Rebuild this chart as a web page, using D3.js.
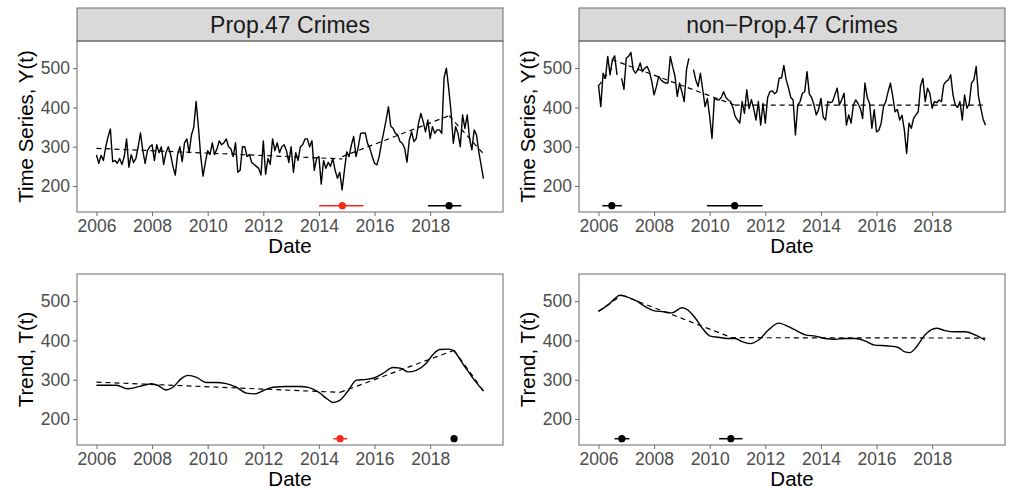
<!DOCTYPE html>
<html>
<head>
<meta charset="utf-8">
<script src="https://cdn.jsdelivr.net/npm/d3@7"></script>
<style>
  body { margin: 0; background: #fff; }
  text { font-family: "Liberation Sans", Arial, Helvetica, sans-serif; }
</style>
</head>
<body>
<svg id="chart" width="1011" height="490"></svg>
<script>
// monthly counts, Jan 2006 .. Dec 2019
var prop47Series = [
  279, 258, 278, 265, 300, 325, 345, 262, 265, 258, 270, 255,
  275, 320, 248, 280, 260, 270, 300, 335, 290, 258, 290, 300,
  305, 265, 305, 285, 300, 255, 285, 300, 280, 250, 228, 280,
  300, 262, 310, 320, 285, 330, 350, 415, 350, 275, 225, 260,
  290, 280, 310, 280, 295, 315, 305, 310, 320, 300, 295, 275,
  310, 235, 240, 300, 300, 275, 280, 260, 255, 250, 245, 228,
  315, 230, 270, 255, 320, 290, 310, 285, 300, 305, 290, 260,
  300, 235, 285, 265, 300, 305, 320, 320, 300, 315, 240, 270,
  275, 205, 265, 245, 260, 250, 270, 240, 220, 235, 190, 240,
  287, 275, 304, 326, 275, 300, 334, 335, 335, 308, 296, 275,
  258, 254, 275, 309, 338, 368, 402, 352, 347, 334, 330, 313,
  309, 296, 261, 317, 338, 313, 321, 360, 385, 364, 338, 368,
  321, 351, 334, 343, 343, 334, 475, 500, 449, 390, 309, 351,
  334, 300, 381, 347, 381, 321, 292, 343, 330, 287, 253, 219
];
var nonProp47Series = [
  457, 402, 487, 474, 530, 483, 521, 531, 483, null, 474, 446,
  525, 530, 540, 496, 487, 496, 513, 491, 500, 504, 491, 466,
  432, 453, 479, 470, 465, 462, 462, 530, 504, 480, 428, 462,
  440, 415, 496, 525, null, 496, 470, 453, 487, 445, 402, 423,
  377, 321, 423, 420, 419, 425, 440, 425, 419, 415, 400, 377,
  368, 360, 415, 385, 445, 397, 420, 397, 368, 415, 355, 410,
  360, 425, 440, 442, 435, 440, 475, 475, 507, 470, 450, 425,
  419, 330, 406, 415, 436, 440, 491, 434, 425, 406, 381, 395,
  423, 375, 368, 415, 412, 415, 432, 449, 406, 420, 436, 355,
  381, 360, 406, 419, 410, 398, 372, 462, 425, 410, 347, 394,
  338, 342, 360, 402, 415, 440, 462, 428, 389, 395, 368, 380,
  343, 283, 360, 347, 372, 381, 389, 455, 474, 415, 449, 436,
  398, 415, 412, 419, 415, 458, 466, 470, 483, 432, 406, 400,
  415, 368, 432, 398, 410, 462, 470, 504, 428, 398, 370, 355
];
var months = d3.range(prop47Series.length).map(function (i) { return 2006 + i / 12; });

// trend components T(t)
var prop47TrendYears = [2006.0, 2006.72, 2007.13, 2007.55, 2007.97, 2008.2, 2008.5, 2008.75, 2009.05, 2009.3,
  2009.6, 2009.95, 2010.3, 2010.67, 2011.03, 2011.39, 2011.69, 2011.99, 2012.35, 2012.8, 2013.3, 2013.65,
  2014.0, 2014.3, 2014.5, 2014.76, 2015.05, 2015.35, 2015.71, 2016.0, 2016.3, 2016.66, 2016.96, 2017.2,
  2017.5, 2017.86, 2018.1, 2018.35, 2018.65, 2018.82, 2019.2, 2019.55, 2019.92];
var prop47Trend = [286, 286, 277, 283, 290, 286, 274, 281, 303, 311,
  306, 293, 293, 290, 281, 266, 264, 272, 281, 283, 283, 280,
  268, 251, 242, 248, 272, 299, 301, 305, 316, 331, 329, 320,
  324, 342, 364, 377, 378, 375, 338, 303, 271];
var nonProp47TrendYears = [2006.0, 2006.36, 2006.78, 2007.02, 2007.38, 2007.68, 2007.98, 2008.34, 2008.64, 2009.0,
  2009.18, 2009.48, 2009.78, 2010.02, 2010.32, 2010.62, 2010.92, 2011.16, 2011.46, 2011.76, 2012.12, 2012.48,
  2012.84, 2013.2, 2013.44, 2013.8, 2014.15, 2014.51, 2014.87, 2015.23, 2015.58, 2015.94, 2016.42, 2016.78,
  2017.02, 2017.2, 2017.44, 2017.74, 2018.16, 2018.46, 2018.82, 2019.18, 2019.54, 2019.9];
var nonProp47Trend = [474, 491, 515, 511, 500, 486, 476, 473, 470, 483,
  479, 457, 427, 411, 408, 405, 405, 397, 392, 401, 427, 444,
  435, 422, 414, 411, 405, 403, 405, 405, 399, 388, 386, 382,
  371, 369, 384, 414, 431, 425, 422, 422, 414, 401];

// piecewise linear fits: [x0, y0, x1, y1]
var prop47FitSeries = [[2006.0, 296, 2014.84, 269], [2014.84, 275, 2018.68, 379], [2018.68, 379, 2019.92, 282]];
var nonProp47FitSeries = [[2006.0, 455, 2006.48, 500], [2006.48, 522, 2010.9, 406], [2010.9, 406, 2019.92, 406]];
var prop47FitTrend = [[2006.0, 294, 2014.76, 268], [2014.76, 268, 2018.86, 375], [2018.86, 375, 2019.92, 271]];
var nonProp47FitTrend = [[2006.0, 474, 2006.84, 515], [2006.84, 515, 2010.76, 408], [2010.76, 407, 2019.92, 406]];

// change points: [lower, estimate, upper]
var prop47CpSeries = [[2014.01, 2014.84, 2015.60], [2017.92, 2018.68, 2019.12]];
var nonProp47CpSeries = [[2006.14, 2006.48, 2006.84], [2009.90, 2010.90, 2011.90]];
var prop47CpTrend = [[2014.52, 2014.76, 2015.02], [2018.82, 2018.86, 2018.90]];
var nonProp47CpTrend = [[2006.58, 2006.84, 2007.11], [2010.34, 2010.76, 2011.18]];
var cpLevel = 150;

var xTicks = [2006, 2008, 2010, 2012, 2014, 2016, 2018];
var yTicks = [200, 300, 400, 500];

var svg = d3.select("#chart");
var xDomain = [2005.30, 2020.62], yDomain = [134, 569];
var cols = [[77, 503], [579, 1005]];
var rows = [[41, 212], [274, 445]];
var frameColor = "#6b6b6b";

var panels = [
  { col: 0, row: 0, title: "Prop.47 Crimes", ylab: "Time Series, Y(t)", xs: months, ys: prop47Series, fit: prop47FitSeries, cp: prop47CpSeries, cpColors: ["#f8291a", "black"], smooth: false },
  { col: 1, row: 0, title: "non\u2212Prop.47 Crimes", ylab: "Time Series, Y(t)", xs: months, ys: nonProp47Series, fit: nonProp47FitSeries, cp: nonProp47CpSeries, cpColors: ["black", "black"], smooth: false },
  { col: 0, row: 1, title: null, ylab: "Trend, T(t)", xs: prop47TrendYears, ys: prop47Trend, fit: prop47FitTrend, cp: prop47CpTrend, cpColors: ["#f8291a", "black"], smooth: true },
  { col: 1, row: 1, title: null, ylab: "Trend, T(t)", xs: nonProp47TrendYears, ys: nonProp47Trend, fit: nonProp47FitTrend, cp: nonProp47CpTrend, cpColors: ["black", "black"], smooth: true }
];

panels.forEach(function (p, i) {
  var x0 = cols[p.col][0], x1 = cols[p.col][1];
  var y0 = rows[p.row][0], y1 = rows[p.row][1];
  var x = d3.scaleLinear().domain(xDomain).range([x0, x1]);
  var y = d3.scaleLinear().domain(yDomain).range([y1, y0]);
  var g = svg.append("g");

  // strip on top
  if (p.title) {
    g.append("rect")
      .attr("x", x0).attr("y", y0 - 33)
      .attr("width", x1 - x0).attr("height", 33)
      .attr("fill", "#d9d9d9").attr("stroke", frameColor).attr("stroke-width", 1);
    g.append("text")
      .attr("x", (x0 + x1) / 2).attr("y", y0 - 16.5)
      .attr("text-anchor", "middle").attr("dominant-baseline", "central")
      .attr("font-size", "23px").attr("fill", "#1a1a1a")
      .text(p.title);
  }

  g.append("clipPath").attr("id", "clip" + i)
    .append("rect").attr("x", x0).attr("y", y0).attr("width", x1 - x0).attr("height", y1 - y0);
  var plot = g.append("g").attr("clip-path", "url(#clip" + i + ")");

  // main line
  var pts = p.xs.map(function (d, k) { return [d, p.ys[k]]; });
  var line = d3.line()
    .defined(function (d) { return d[1] != null; })
    .x(function (d) { return x(d[0]); })
    .y(function (d) { return y(d[1]); });
  if (p.smooth) line.curve(d3.curveMonotoneX);
  plot.append("path").datum(pts)
    .attr("d", line)
    .attr("fill", "none").attr("stroke", "black")
    .attr("stroke-width", 1.4).attr("stroke-linejoin", "round");

  // dashed piecewise fit
  plot.selectAll(".fit").data(p.fit).enter().append("line")
    .attr("x1", function (d) { return x(d[0]); })
    .attr("y1", function (d) { return y(d[1]); })
    .attr("x2", function (d) { return x(d[2]); })
    .attr("y2", function (d) { return y(d[3]); })
    .attr("stroke", "black").attr("stroke-width", 1.2)
    .attr("stroke-dasharray", "5,4");

  // change point intervals
  plot.selectAll(".cpi").data(p.cp).enter().append("line")
    .attr("x1", function (d) { return x(d[0]); })
    .attr("x2", function (d) { return x(d[2]); })
    .attr("y1", y(cpLevel)).attr("y2", y(cpLevel))
    .attr("stroke", function (d, k) { return p.cpColors[k]; })
    .attr("stroke-width", 1.5);
  plot.selectAll(".cpd").data(p.cp).enter().append("circle")
    .attr("cx", function (d) { return x(d[1]); })
    .attr("cy", y(cpLevel))
    .attr("r", 3.6)
    .attr("fill", function (d, k) { return p.cpColors[k]; });

  // panel border
  g.append("rect")
    .attr("x", x0).attr("y", y0).attr("width", x1 - x0).attr("height", y1 - y0)
    .attr("fill", "none").attr("stroke", frameColor).attr("stroke-width", 1);

  // axes
  var ax = g.append("g").attr("transform", "translate(0," + y1 + ")")
    .call(d3.axisBottom(x).tickValues(xTicks).tickFormat(d3.format("d")).tickSize(4).tickPadding(4));
  var ay = g.append("g").attr("transform", "translate(" + x0 + ",0)")
    .call(d3.axisLeft(y).tickValues(yTicks).tickSize(4).tickPadding(3));
  [ax, ay].forEach(function (a) {
    a.select(".domain").remove();
    a.selectAll("line").attr("stroke", frameColor);
    a.selectAll("text").attr("font-size", "17.5px").attr("fill", "#4d4d4d")
      .style("font-family", "'Liberation Sans', Arial, sans-serif");
  });

  g.append("text")
    .attr("x", (x0 + x1) / 2).attr("y", y1 + 33)
    .attr("text-anchor", "middle").attr("dominant-baseline", "central")
    .attr("font-size", "20.5px").attr("fill", "black")
    .text("Date");
  g.append("text")
    .attr("transform", "translate(" + (x0 - 52) + "," + ((y0 + y1) / 2) + ") rotate(-90)")
    .attr("text-anchor", "middle").attr("dominant-baseline", "central")
    .attr("font-size", "20.5px").attr("fill", "black")
    .text(p.ylab);
});
</script>
</body>
</html>
